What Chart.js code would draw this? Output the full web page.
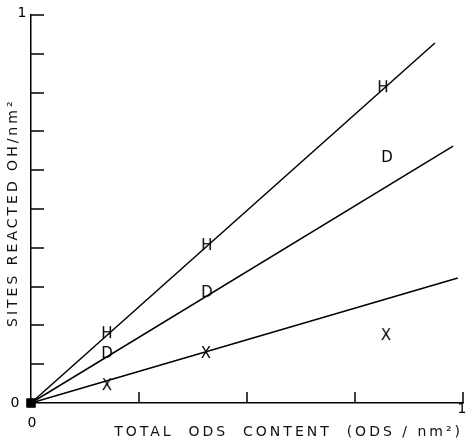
<!DOCTYPE html>
<html><head><meta charset="utf-8">
<script src="https://cdn.jsdelivr.net/npm/chart.js@4/dist/chart.umd.min.js"></script>
<style>html,body{margin:0;padding:0;background:#fff;overflow:hidden}canvas{display:block}</style>
</head><body>
<canvas id="c" width="467" height="439"></canvas>
<script>
// ---- data ----
const xTickValues = [0, 0.25, 0.5, 0.75, 1];
const yTickValues = [0, 0.1, 0.2, 0.3, 0.4, 0.5, 0.6, 0.7, 0.8, 0.9, 1];
const edgeLabels = ['0', '1'];
const xTitle = 'TOTAL  ODS  CONTENT  (ODS / nm²)';
const yTitle = 'SITES REACTED OH/nm² ';

const hX = [0.176, 0.407, 0.815];
const hY = [0.180, 0.407, 0.814];
const dX = [0.176, 0.407, 0.824];
const dY = [0.129, 0.286, 0.634];
const xX = [0.176, 0.405, 0.822];
const xY = [0.046, 0.129, 0.175];

const hLineX = [0, 0.935], hLineY = [0, 0.928];
const dLineX = [0, 0.977], dLineY = [0, 0.662];
const xLineX = [0, 0.988], xLineY = [0, 0.322];
const originX = [0], originY = [0];

const FONT = '"DejaVu Sans", sans-serif';
const pts = (xs, ys) => xs.map((x, i) => ({x, y: ys[i]}));

function glyph(ch) {
  const c = document.createElement('canvas');
  c.width = 18; c.height = 18;
  const g = c.getContext('2d');
  g.fillStyle = '#000';
  g.font = '15px ' + FONT;
  g.textAlign = 'center';
  g.textBaseline = 'middle';
  g.fillText(ch, 9, 10);
  return c;
}

const lineDs = (xs, ys) => ({
  type: 'line', data: pts(xs, ys), borderColor: '#000', borderWidth: 1.5,
  pointRadius: 0, showLine: true, fill: false, clip: false
});
const markDs = (xs, ys, ch) => ({
  type: 'scatter', data: pts(xs, ys), pointStyle: glyph(ch), pointRadius: 9, clip: false
});

const decor = {
  id: 'decor',
  beforeDraw(chart) { chart.ctx.letterSpacing = '3px'; },
  afterDraw(chart) {
    const ctx = chart.ctx, xs = chart.scales.x, ys = chart.scales.y, a = chart.chartArea;
    ctx.save();
    ctx.letterSpacing = '0px';
    ctx.strokeStyle = '#000';
    ctx.lineWidth = 1.5;
    yTickValues.forEach(v => {
      if (v === 0) return;
      const py = Math.round(ys.getPixelForValue(v));
      ctx.beginPath(); ctx.moveTo(a.left, py); ctx.lineTo(a.left + 13, py); ctx.stroke();
    });
    xTickValues.forEach(v => {
      if (v === 0) return;
      const px = Math.round(xs.getPixelForValue(v));
      ctx.beginPath(); ctx.moveTo(px, a.bottom); ctx.lineTo(px, a.bottom - 11); ctx.stroke();
    });
    ctx.fillStyle = '#000';
    ctx.font = '14px ' + FONT;
    ctx.textAlign = 'center';
    ctx.textBaseline = 'middle';
    ctx.fillText(edgeLabels[1], a.left - 9, ys.getPixelForValue(1) - 2);
    ctx.fillText(edgeLabels[0], a.left - 16, ys.getPixelForValue(0));
    ctx.fillText(edgeLabels[0], xs.getPixelForValue(0) + 1, a.bottom + 20);
    ctx.fillText(edgeLabels[1], xs.getPixelForValue(1) - 1, a.bottom + 6);
    ctx.restore();
  }
};

new Chart(document.getElementById('c'), {
  type: 'scatter',
  data: {
    datasets: [
      lineDs(hLineX, hLineY), lineDs(dLineX, dLineY), lineDs(xLineX, xLineY),
      markDs(hX, hY, 'H'), markDs(dX, dY, 'D'), markDs(xX, xY, 'X'),
      { type: 'scatter', data: pts(originX, originY), pointStyle: 'rect', pointRadius: 6,
        backgroundColor: '#000', borderColor: '#000', clip: false }
    ]
  },
  options: {
    responsive: false, animation: false, devicePixelRatio: 1,
    layout: { autoPadding: false, padding: { top: 15, right: 4, left: 0, bottom: 0 } },
    plugins: { legend: { display: false }, tooltip: { enabled: false } },
    scales: {
      x: {
        type: 'linear', min: 0, max: 1,
        ticks: { display: false },
        grid: { display: false },
        border: { display: true, color: '#000', width: 1.5 },
        title: { display: true, text: xTitle, align: 'end', color: '#111',
                 font: { family: FONT, size: 14, lineHeight: 1 }, padding: { top: 0, bottom: 0 } },
        afterFit: s => { s.height = 36; }
      },
      y: {
        type: 'linear', min: 0, max: 1,
        ticks: { display: false },
        grid: { display: false },
        border: { display: true, color: '#000', width: 1.5 },
        title: { display: true, text: yTitle, align: 'center', color: '#111',
                 font: { family: FONT, size: 14, lineHeight: 1 }, padding: { top: 6, bottom: 0 } },
        afterFit: s => { s.width = 31; }
      }
    }
  },
  plugins: [decor]
});
</script>
</body></html>
